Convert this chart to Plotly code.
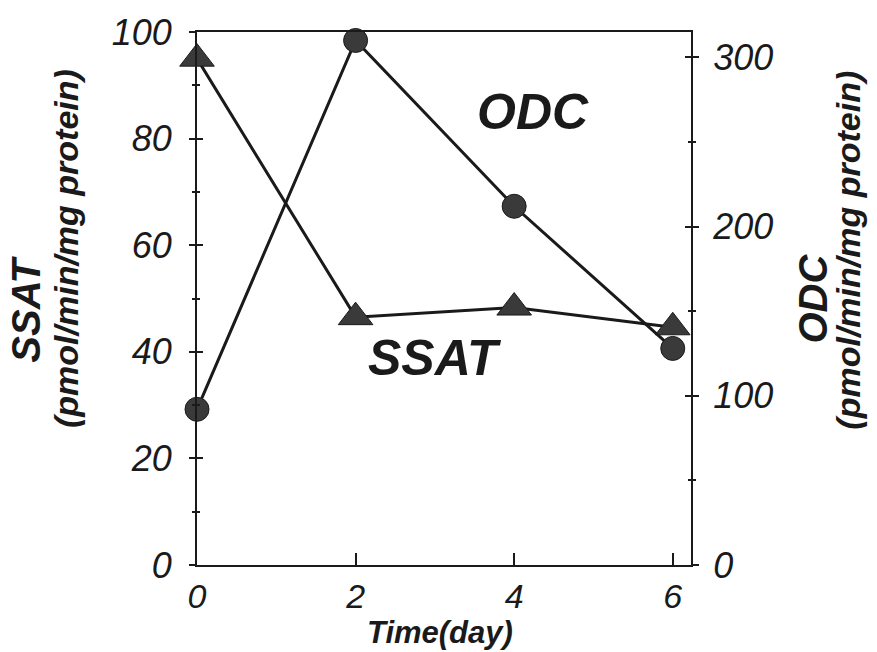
import plotly.graph_objects as go

days = [0, 2, 4, 6]
ssat = [95, 46.5, 48.3, 44.6]          # left axis
odc = [92, 310, 212, 128]              # right axis

x_ticks = [0, 2, 4, 6]
left_ticks = [0, 20, 40, 60, 80, 100]
right_ticks = [0, 100, 200, 300]

FONT = "Liberation Sans"
INK = "#1a1a1a"
MARK = "#3a3a3a"

fig = go.Figure()

fig.add_trace(go.Scatter(
    x=days, y=ssat, mode="lines+markers", yaxis="y", cliponaxis=False,
    line=dict(color=INK, width=3),
    marker=dict(symbol="triangle-up", size=30, color=MARK, line=dict(color=INK, width=1)),
    showlegend=False))
fig.add_trace(go.Scatter(
    x=days, y=odc, mode="lines+markers", yaxis="y2", cliponaxis=False,
    line=dict(color=INK, width=3),
    marker=dict(symbol="circle", size=24, color=MARK, line=dict(color=INK, width=1)),
    showlegend=False))

tickfont = dict(family=FONT, size=36, color=INK, style="italic")
xtickfont = dict(family=FONT, size=34, color=INK, style="italic")

fig.update_layout(
    width=877, height=652,
    margin=dict(l=197, r=186, t=29, b=87),
    plot_bgcolor="white", paper_bgcolor="white",
    xaxis=dict(range=[0, 6.23], tickvals=x_ticks, ticktext=[str(v) for v in x_ticks],
               ticks="inside", ticklen=12, tickwidth=2, tickcolor=INK,
               showline=True, linecolor=INK, linewidth=2, mirror=True,
               showgrid=False, zeroline=False, tickfont=xtickfont, ticklabelstandoff=0),
    yaxis=dict(range=[0, 100], tickvals=left_ticks, ticktext=[str(v) for v in left_ticks],
               ticks="outside", ticklen=6, tickwidth=2, tickcolor=INK,
               minor=dict(ticks="outside", dtick=10, ticklen=3, tickwidth=2, tickcolor=INK),
               showline=True, linecolor=INK, linewidth=2,
               showgrid=False, zeroline=False, tickfont=tickfont, ticklabelstandoff=10),
    yaxis2=dict(range=[0, 315], overlaying="y", side="right",
                tickvals=right_ticks, ticktext=[str(v) for v in right_ticks],
                ticks="outside", ticklen=6, tickwidth=2, tickcolor=INK,
                minor=dict(ticks="outside", dtick=50, ticklen=3, tickwidth=2, tickcolor=INK),
                showline=True, linecolor=INK, linewidth=2,
                showgrid=False, zeroline=False, tickfont=tickfont, ticklabelstandoff=7),
    yaxis3=dict(range=[0, 100], overlaying="y", side="left",
                tickvals=left_ticks, showticklabels=False,
                ticks="inside", ticklen=6, tickwidth=2, tickcolor=INK,
                minor=dict(ticks="inside", dtick=10, ticklen=3, tickwidth=2, tickcolor=INK),
                showline=False, showgrid=False, zeroline=False),
    yaxis4=dict(range=[0, 315], overlaying="y", side="right",
                tickvals=right_ticks, showticklabels=False,
                ticks="inside", ticklen=6, tickwidth=2, tickcolor=INK,
                minor=dict(ticks="inside", dtick=50, ticklen=3, tickwidth=2, tickcolor=INK),
                showline=False, showgrid=False, zeroline=False),
)

# invisible traces to activate overlay tick axes
fig.add_trace(go.Scatter(x=[None], y=[None], yaxis="y3", showlegend=False, hoverinfo="skip"))
fig.add_trace(go.Scatter(x=[None], y=[None], yaxis="y4", showlegend=False, hoverinfo="skip"))

title_big = dict(family=FONT, size=40, color=INK, weight="bold", style="italic")
title_sub = dict(family=FONT, size=34, color=INK, weight="bold", style="italic")
label_font = dict(family=FONT, size=50, color=INK, weight="bold", style="italic")

annos = [
    dict(text="SSAT", x=-0.345, y=0.48, font=title_big, textangle=-90),
    dict(text="(pmol/min/mg protein)", x=-0.265, y=0.593, font=title_sub, textangle=-90),
    dict(text="ODC", x=1.245, y=0.50, font=title_big, textangle=-90),
    dict(text="(pmol/min/mg protein)", x=1.316, y=0.59, font=title_sub, textangle=-90),
    dict(text="Time(day)", x=0.492, y=-0.126, font=dict(family=FONT, size=31, color=INK, weight="bold", style="italic")),
]
for a in annos:
    fig.add_annotation(xref="paper", yref="paper", xanchor="center", yanchor="middle",
                       showarrow=False, **a)

fig.add_annotation(text="ODC", x=4.24, y=84.9, xref="x", yref="y", showarrow=False,
                   xanchor="center", yanchor="middle", font=label_font)
fig.add_annotation(text="SSAT", x=3.0, y=38.8, xref="x", yref="y", showarrow=False,
                   xanchor="center", yanchor="middle", font=label_font)

fig.write_html("out.html")
